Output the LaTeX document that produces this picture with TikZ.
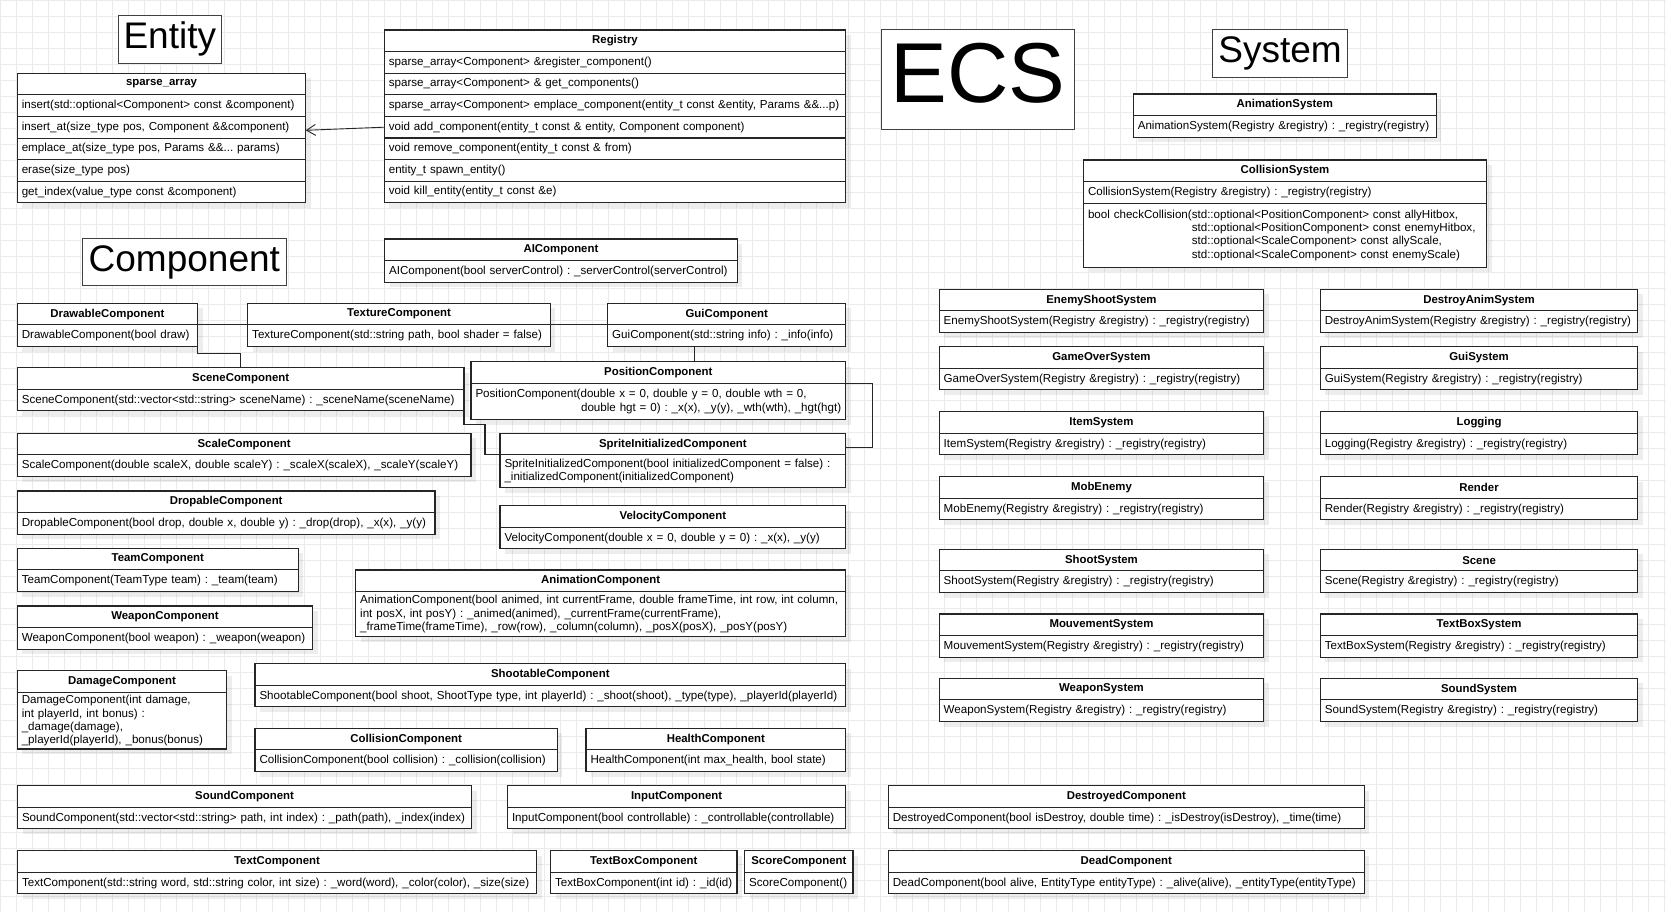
\documentclass[tikz,border=0pt]{standalone}
\usepackage{fontspec}
\setmainfont{Liberation Sans}
\usetikzlibrary{arrows.meta,shadows}

\begin{document}
\begin{tikzpicture}[x=1pt, y=-1pt,
    box/.style={draw=black!85, line width=1.1pt, fill=white, anchor=north west, outer sep=0pt,
        drop shadow={shadow xshift=5pt, shadow yshift=-5pt, fill=black, opacity=0.07}},
    head/.style={box, minimum width=#1pt, minimum height=21.6pt, inner sep=0pt,
        font=\bfseries\fontsize{11.4}{13}\selectfont},
    func/.code={\pgfmathsetmacro\funcwd{#1-9}%
        \tikzset{box, text width=\funcwd pt, inner xsep=4.5pt, inner ysep=1.5pt,
            align=left, minimum height=21.6pt, font=\fontsize{11.6}{13.3}\selectfont\frenchspacing}},
    tall/.style={minimum height=#1pt},
    title/.style={draw=black!75, line width=1pt, fill=white, anchor=north west,
        inner sep=0pt, outer sep=0pt, font=\fontsize{37}{40}\selectfont},
    link/.style={draw=black!85, line width=1.1pt},
    gridline/.style={draw=black!8, line width=0.9pt}]

    % Page and grid
    \useasboundingbox (0,0) rectangle (1666,912);
    \fill[white] (0,0) rectangle (1666,912);
    \foreach \gx in {0.3,16.3,...,1666} \draw[gridline] (\gx,0) -- (\gx,912);
    \foreach \gy in {0,16,...,912} \draw[gridline] (0,\gy) -- (1666,\gy);

    % Entity
    \node[title, minimum width=103pt, minimum height=48pt] (entity) at (118.3,15.3) {Entity};

    \node[head=288.4] (sparse) at (17.3,73.3) {sparse\_array};
    \node[func=288.4] (sparse-1) at (sparse.south west) {insert(std::optional<Component> const \&component)};
    \node[func=288.4] (sparse-2) at (sparse-1.south west) {insert\_at(size\_type pos, Component \&\&component)};
    \node[func=288.4] (sparse-3) at (sparse-2.south west) {emplace\_at(size\_type pos, Params \&\&... params)};
    \node[func=288.4] (sparse-4) at (sparse-3.south west) {erase(size\_type pos)};
    \node[func=288.4] (sparse-5) at (sparse-4.south west) {get\_index(value\_type const \&component)};

    \node[head=461.4] (registry) at (384.3,30) {Registry};
    \node[func=461.4] (registry-1) at (registry.south west) {sparse\_array<Component> \&register\_component()};
    \node[func=461.4] (registry-2) at (registry-1.south west) {sparse\_array<Component> \& get\_components()};
    \node[func=461.4] (registry-3) at (registry-2.south west) {sparse\_array<Component> emplace\_component(entity\_t const \&entity, Params \&\&...p)};
    \node[func=461.4] (registry-4) at (registry-3.south west) {void add\_component(entity\_t const \& entity, Component component)};
    \node[func=461.4] (registry-5) at (registry-4.south west) {void remove\_component(entity\_t const \& from)};
    \node[func=461.4] (registry-6) at (registry-5.south west) {entity\_t spawn\_entity()};
    \node[func=461.4] (registry-7) at (registry-6.south west) {void kill\_entity(entity\_t const \&e)};

    \draw[link, line width=0.9pt, -{Straight Barb[length=9pt, width=11pt]}] (registry-4.west) -- ([yshift=-3pt]sparse-2.east);

    % ECS
    \node[title, minimum width=193.7pt, minimum height=100.7pt, text depth=14pt,
        font=\fontsize{85}{90}\selectfont] (ecs) at (881.1,29.3) {ECS};

    % Component
    \node[title, minimum width=203.3pt, minimum height=47.7pt] (component) at (82.7,238.3) {Component};

    \node[head=352.7] (ai) at (384.6,239) {AIComponent};
    \node[func=352.7] (ai-f) at (ai.south west) {AIComponent(bool serverControl) : \_serverControl(serverControl)};

    \node[head=180.4] (drawable) at (17.3,303.3) {DrawableComponent};
    \node[func=180.4] (drawable-f) at (drawable.south west) {DrawableComponent(bool draw)};

    \node[head=302.7] (texture) at (247.7,303.3) {TextureComponent};
    \node[func=302.7] (texture-f) at (texture.south west) {TextureComponent(std::string path, bool shader = false)};

    \node[head=238] (gui) at (607.7,303.3) {GuiComponent};
    \node[func=238] (gui-f) at (gui.south west) {GuiComponent(std::string info) : \_info(info)};

    \node[head=446.7] (scene) at (17.3,367.7) {SceneComponent};
    \node[func=446.7] (scene-f) at (scene.south west) {SceneComponent(std::vector<std::string> sceneName) : \_sceneName(sceneName)};

    \node[head=374.7] (position) at (471,361.7) {PositionComponent};
    \node[func=374.7, tall=36.3] (position-f) at (position.south west) {PositionComponent(double x = 0, double y = 0, double wth = 0,\\
        \hfill double hgt = 0) : \_x(x), \_y(y), \_wth(wth), \_hgt(hgt)};

    \node[head=453.7] (scale) at (17.3,433.3) {ScaleComponent};
    \node[func=453.7] (scale-f) at (scale.south west) {ScaleComponent(double scaleX, double scaleY) : \_scaleX(scaleX), \_scaleY(scaleY)};

    \node[head=345.7] (sprite) at (500,433.3) {SpriteInitializedComponent};
    \node[func=345.7, tall=32.7] (sprite-f) at (sprite.south west) {SpriteInitializedComponent(bool initializedComponent = false) :\\
        \_initializedComponent(initializedComponent)};

    \node[head=417.7] (dropable) at (17.3,491) {DropableComponent};
    \node[func=417.7] (dropable-f) at (dropable.south west) {DropableComponent(bool drop, double x, double y) : \_drop(drop), \_x(x), \_y(y)};

    \node[head=345.7] (velocity) at (500,505.7) {VelocityComponent};
    \node[func=345.7] (velocity-f) at (velocity.south west) {VelocityComponent(double x = 0, double y = 0) : \_x(x), \_y(y)};

    \node[head=281] (team) at (17.3,548.3) {TeamComponent};
    \node[func=281] (team-f) at (team.south west) {TeamComponent(TeamType team) : \_team(team)};

    \node[head=490] (animation) at (355.7,570) {AnimationComponent};
    \node[func=490, tall=45] (animation-f) at (animation.south west) {AnimationComponent(bool animed, int currentFrame, double frameTime, int row, int column,\\
        int posX, int posY) : \_animed(animed), \_currentFrame(currentFrame),\\
        \_frameTime(frameTime), \_row(row), \_column(column), \_posX(posX), \_posY(posY)};

    \node[head=295.4] (weapon) at (17.3,606) {WeaponComponent};
    \node[func=295.4] (weapon-f) at (weapon.south west) {WeaponComponent(bool weapon) : \_weapon(weapon)};

    \node[head=209.4] (damage) at (17.3,670.7) {DamageComponent};
    \node[func=209.4, tall=56.7] (damage-f) at (damage.south west) {DamageComponent(int damage,\\
        int playerId, int bonus) :\\
        \_damage(damage),\\
        \_playerId(playerId), \_bonus(bonus)};

    \node[head=590.7] (shootable) at (255,663.7) {ShootableComponent};
    \node[func=590.7] (shootable-f) at (shootable.south west) {ShootableComponent(bool shoot, ShootType type, int playerId) : \_shoot(shoot), \_type(type), \_playerId(playerId)};

    \node[head=302.3] (collision) at (255,728.3) {CollisionComponent};
    \node[func=302.3] (collision-f) at (collision.south west) {CollisionComponent(bool collision) : \_collision(collision)};

    \node[head=259.7] (health) at (586,728.3) {HealthComponent};
    \node[func=259.7] (health-f) at (health.south west) {HealthComponent(int max\_health, bool state)};

    \node[head=454.2] (sound) at (17.5,785.7) {SoundComponent};
    \node[func=454.2] (sound-f) at (sound.south west) {SoundComponent(std::vector<std::string> path, int index) : \_path(path), \_index(index)};

    \node[head=338.2] (input) at (507.5,785.7) {InputComponent};
    \node[func=338.2] (input-f) at (input.south west) {InputComponent(bool controllable) : \_controllable(controllable)};

    \node[head=519] (text) at (17.5,850.7) {TextComponent};
    \node[func=519] (text-f) at (text.south west) {TextComponent(std::string word, std::string color, int size) : \_word(word), \_color(color), \_size(size)};

    \node[head=186.5] (textbox) at (550.5,850.7) {TextBoxComponent};
    \node[func=186.5] (textbox-f) at (textbox.south west) {TextBoxComponent(int id) : \_id(id)};

    \node[head=108.3] (score) at (744.7,850.7) {ScoreComponent};
    \node[func=108.3] (score-f) at (score.south west) {ScoreComponent()};

    \node[head=476] (destroyed) at (888.3,785.7) {DestroyedComponent};
    \node[func=476] (destroyed-f) at (destroyed.south west) {DestroyedComponent(bool isDestroy, double time) : \_isDestroy(isDestroy), \_time(time)};

    \node[head=476] (dead) at (888.3,850.7) {DeadComponent};
    \node[func=476] (dead-f) at (dead.south west) {DeadComponent(bool alive, EntityType entityType) : \_alive(alive), \_entityType(entityType)};

    % Component links
    \draw[link] (drawable.south east) -- (texture.south west);
    \draw[link] (texture.south east) -- (gui.south west);
    \draw[link] (drawable-f.south east) -- ++(0,7) -| (scene.north);
    \draw[link] (gui-f.south west) ++(86.6,0) coordinate (guidrop) -- (guidrop |- position.north);
    \draw[link] (position.south east) -- ++(26.6,0) |- ([yshift=-3pt]sprite.east);
    \draw[link] (scene-f.south east) -- ++(0,13.3) -| ([xshift=-15pt]sprite.south west) -- (sprite.south west);

    % System
    \node[title, minimum width=135.3pt, minimum height=48pt] (system) at (1212.4,29.3) {System};

    \node[head=303] (animsys) at (1133.3,94) {AnimationSystem};
    \node[func=303] (animsys-f) at (animsys.south west) {AnimationSystem(Registry \&registry) : \_registry(registry)};

    \node[head=403] (collsys) at (1083.5,160) {CollisionSystem};
    \node[func=403] (collsys-1) at (collsys.south west) {CollisionSystem(Registry \&registry) : \_registry(registry)};
    \node[func=403, tall=64] (collsys-2) at (collsys-1.south west) {bool checkCollision(std::optional<PositionComponent> const allyHitbox,\\
        \hphantom{bool checkCollision(}std::optional<PositionComponent> const enemyHitbox,\\
        \hphantom{bool checkCollision(}std::optional<ScaleComponent> const allyScale,\\
        \hphantom{bool checkCollision(}std::optional<ScaleComponent> const enemyScale)};

    \node[head=324.5] (enemyshoot) at (939.2,289.3) {EnemyShootSystem};
    \node[func=324.5] (enemyshoot-f) at (enemyshoot.south west) {EnemyShootSystem(Registry \&registry) : \_registry(registry)};
    \node[head=324.5] (gameover) at (939.2,346.7) {GameOverSystem};
    \node[func=324.5] (gameover-f) at (gameover.south west) {GameOverSystem(Registry \&registry) : \_registry(registry)};
    \node[head=324.5] (item) at (939.2,411.7) {ItemSystem};
    \node[func=324.5] (item-f) at (item.south west) {ItemSystem(Registry \&registry) : \_registry(registry)};
    \node[head=324.5] (mob) at (939.2,476.7) {MobEnemy};
    \node[func=324.5] (mob-f) at (mob.south west) {MobEnemy(Registry \&registry) : \_registry(registry)};
    \node[head=324.5] (shoot) at (939.2,549.3) {ShootSystem};
    \node[func=324.5] (shoot-f) at (shoot.south west) {ShootSystem(Registry \&registry) : \_registry(registry)};
    \node[head=324.5] (mouvement) at (939.2,614) {MouvementSystem};
    \node[func=324.5] (mouvement-f) at (mouvement.south west) {MouvementSystem(Registry \&registry) : \_registry(registry)};
    \node[head=324.5] (weaponsys) at (939.2,678.3) {WeaponSystem};
    \node[func=324.5] (weaponsys-f) at (weaponsys.south west) {WeaponSystem(Registry \&registry) : \_registry(registry)};

    \node[head=317.5] (destroyanim) at (1320.3,289.3) {DestroyAnimSystem};
    \node[func=317.5] (destroyanim-f) at (destroyanim.south west) {DestroyAnimSystem(Registry \&registry) : \_registry(registry)};
    \node[head=317.5] (guisys) at (1320.3,346.7) {GuiSystem};
    \node[func=317.5] (guisys-f) at (guisys.south west) {GuiSystem(Registry \&registry) : \_registry(registry)};
    \node[head=317.5] (logging) at (1320.3,411.7) {Logging};
    \node[func=317.5] (logging-f) at (logging.south west) {Logging(Registry \&registry) : \_registry(registry)};
    \node[head=317.5] (render) at (1320.3,476.7) {Render};
    \node[func=317.5] (render-f) at (render.south west) {Render(Registry \&registry) : \_registry(registry)};
    \node[head=317.5] (scenesys) at (1320.3,549.3) {Scene};
    \node[func=317.5] (scenesys-f) at (scenesys.south west) {Scene(Registry \&registry) : \_registry(registry)};
    \node[head=317.5] (textboxsys) at (1320.3,614) {TextBoxSystem};
    \node[func=317.5] (textboxsys-f) at (textboxsys.south west) {TextBoxSystem(Registry \&registry) : \_registry(registry)};
    \node[head=317.5] (soundsys) at (1320.3,678.3) {SoundSystem};
    \node[func=317.5] (soundsys-f) at (soundsys.south west) {SoundSystem(Registry \&registry) : \_registry(registry)};
\end{tikzpicture}
\end{document}
